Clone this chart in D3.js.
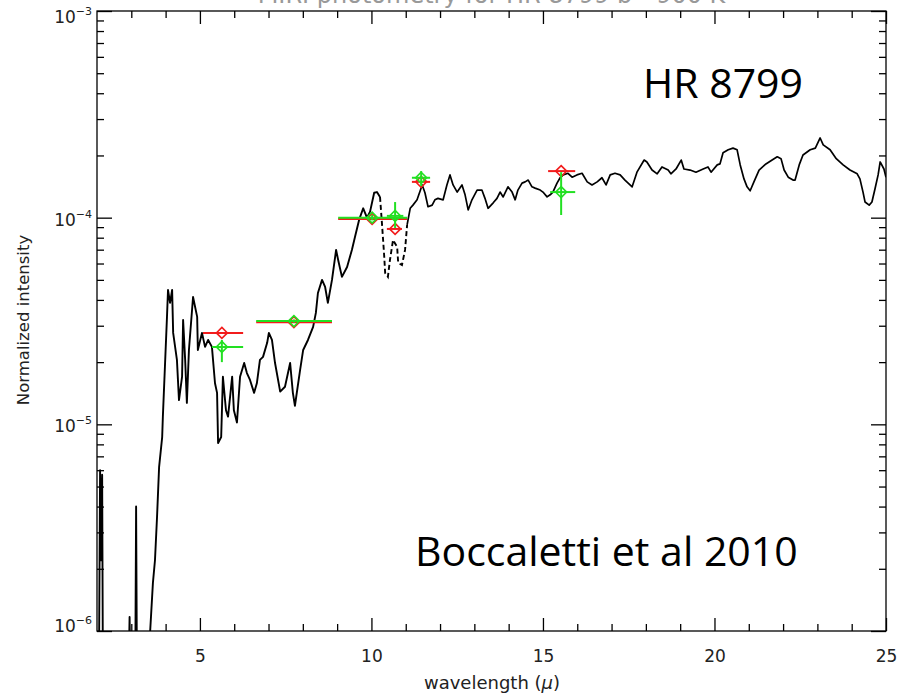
<!DOCTYPE html>
<html>
<head>
<meta charset="utf-8">
<script src="https://cdn.jsdelivr.net/npm/d3@7"></script>
<style>
  html, body { margin: 0; padding: 0; background: #fff; }
  svg { display: block; }
</style>
</head>
<body>
<svg id="chart" width="904" height="698"></svg>
<script>
// Model spectrum of HR 8799 (wavelength in micron, normalized intensity)
const wavelength = [
  2.00, 2.06, 2.09, 2.12, 2.15, 2.17, 2.90, 2.95, 2.99, 3.11,
  3.14, 3.17, 3.52, 3.55, 3.63, 3.69, 3.75, 3.81, 3.90, 3.92,
  3.98, 4.04, 4.07, 4.13, 4.19, 4.22, 4.33, 4.39, 4.48, 4.51,
  4.57, 4.62, 4.68, 4.80, 4.92, 4.94, 5.06, 5.15, 5.24, 5.35,
  5.44, 5.50, 5.53, 5.62, 5.67, 5.76, 5.82, 5.94, 5.99, 6.08,
  6.17, 6.29, 6.37, 6.46, 6.58, 6.66, 6.75, 6.84, 6.96, 7.01,
  7.10, 7.19, 7.34, 7.48, 7.63, 7.71, 7.77, 7.92, 8.01, 8.15,
  8.30, 8.38, 8.44, 8.56, 8.65, 8.73, 8.85, 8.97, 9.03, 9.14,
  9.29, 9.43, 9.52, 9.64, 9.76, 9.87, 9.96, 10.08, 10.16, 10.25,
  10.31, 10.37, 10.40, 10.48, 10.54, 10.63, 10.75, 10.78, 10.89, 10.98,
  11.04, 11.13, 11.21, 11.33, 11.48, 11.56, 11.65, 11.77, 11.85, 11.94,
  12.09, 12.20, 12.29, 12.38, 12.50, 12.64, 12.73, 12.82, 12.93, 13.08,
  13.22, 13.31, 13.40, 13.55, 13.66, 13.75, 13.84, 13.98, 14.10, 14.19,
  14.27, 14.39, 14.48, 14.57, 14.68, 14.77, 14.92, 15.00, 15.12, 15.21,
  15.29, 15.41, 15.50, 15.59, 15.73, 15.85, 15.99, 16.14, 16.29, 16.43,
  16.58, 16.72, 16.84, 16.96, 17.10, 17.25, 17.39, 17.60, 17.74, 17.95,
  18.03, 18.18, 18.33, 18.47, 18.65, 18.73, 18.88, 19.03, 19.11, 19.29,
  19.46, 19.67, 19.81, 19.90, 20.08, 20.16, 20.25, 20.40, 20.54, 20.66,
  20.75, 20.86, 20.95, 21.04, 21.15, 21.30, 21.50, 21.68, 21.83, 21.94,
  22.03, 22.15, 22.29, 22.35, 22.47, 22.58, 22.79, 22.94, 23.08, 23.17,
  23.37, 23.55, 23.75, 23.95, 24.16, 24.24, 24.33, 24.39, 24.51, 24.59,
  24.68, 24.77, 24.83, 24.94, 25.00
];
const intensity = [
  4e-7, 8e-7, 6.0e-6, 2.2e-6, 5.7e-6, 8e-7, 4e-7, 1.17e-6, 4e-7, 4e-7,
  4.0e-6, 4e-7, 4e-7, 1.0e-6, 1.71e-6, 2.2e-6, 3.56e-6, 6.21e-6, 8.68e-6, 1.09e-5,
  1.90e-5, 3.31e-5, 4.47e-5, 3.87e-5, 4.47e-5, 2.77e-5, 2.05e-5, 1.31e-5, 1.70e-5, 3.20e-5,
  2.05e-5, 1.27e-5, 2.29e-5, 4.13e-5, 3.31e-5, 2.29e-5, 2.77e-5, 2.37e-5, 2.56e-5, 2.37e-5,
  1.58e-5, 1.42e-5, 8.12e-6, 8.68e-6, 1.70e-5, 1.17e-5, 1.09e-5, 1.70e-5, 1.17e-5, 1.02e-5,
  1.70e-5, 1.98e-5, 1.77e-5, 1.64e-5, 1.42e-5, 1.58e-5, 2.05e-5, 2.12e-5, 2.48e-5, 2.77e-5,
  2.56e-5, 1.98e-5, 1.44e-5, 1.52e-5, 1.98e-5, 1.42e-5, 1.23e-5, 1.83e-5, 2.29e-5, 2.56e-5,
  2.96e-5, 3.46e-5, 4.32e-5, 5.00e-5, 4.62e-5, 3.87e-5, 5.00e-5, 6.98e-5, 6.24e-5, 5.17e-5,
  5.77e-5, 6.98e-5, 8.07e-5, 9.75e-5, 1.11e-4, 1.00e-4, 1.07e-4, 1.32e-4, 1.33e-4, 1.26e-4,
  9.22e-5, 6.60e-5, 5.40e-5, 5.17e-5, 6.24e-5, 7.80e-5, 7.21e-5, 6.04e-5, 5.90e-5, 6.98e-5,
  9.22e-5, 1.11e-4, 1.15e-4, 1.22e-4, 1.44e-4, 1.32e-4, 1.13e-4, 1.15e-4, 1.22e-4, 1.24e-4,
  1.22e-4, 1.44e-4, 1.61e-4, 1.44e-4, 1.33e-4, 1.44e-4, 1.29e-4, 1.09e-4, 1.22e-4, 1.36e-4,
  1.36e-4, 1.24e-4, 1.11e-4, 1.18e-4, 1.24e-4, 1.33e-4, 1.26e-4, 1.41e-4, 1.33e-4, 1.22e-4,
  1.36e-4, 1.47e-4, 1.49e-4, 1.52e-4, 1.41e-4, 1.39e-4, 1.36e-4, 1.33e-4, 1.26e-4, 1.29e-4,
  1.33e-4, 1.47e-4, 1.56e-4, 1.61e-4, 1.64e-4, 1.57e-4, 1.61e-4, 1.64e-4, 1.49e-4, 1.44e-4,
  1.49e-4, 1.56e-4, 1.44e-4, 1.61e-4, 1.64e-4, 1.61e-4, 1.52e-4, 1.41e-4, 1.66e-4, 1.90e-4,
  1.86e-4, 1.70e-4, 1.63e-4, 1.76e-4, 1.70e-4, 1.63e-4, 1.72e-4, 1.90e-4, 1.72e-4, 1.70e-4,
  1.66e-4, 1.72e-4, 1.76e-4, 1.66e-4, 1.80e-4, 1.82e-4, 2.06e-4, 2.13e-4, 2.17e-4, 2.13e-4,
  1.80e-4, 1.54e-4, 1.41e-4, 1.35e-4, 1.49e-4, 1.70e-4, 1.82e-4, 1.90e-4, 1.97e-4, 1.93e-4,
  1.70e-4, 1.57e-4, 1.52e-4, 1.52e-4, 1.80e-4, 2.01e-4, 2.13e-4, 2.17e-4, 2.43e-4, 2.25e-4,
  2.13e-4, 1.93e-4, 1.80e-4, 1.70e-4, 1.63e-4, 1.54e-4, 1.33e-4, 1.19e-4, 1.15e-4, 1.19e-4,
  1.38e-4, 1.61e-4, 1.86e-4, 1.72e-4, 1.57e-4
];
// Sparsely sampled stretch of the spectrum, drawn dashed
const sparseRange = [10.25, 11.04];

// Photometry, first reduction (red): centre, flux, filter band edges
const redWl = [5.64, 7.74, 10.02, 10.69, 11.45, 15.53];
const redFlux = [2.77e-5, 3.12e-5, 9.86e-5, 8.82e-5, 1.49e-4, 1.68e-4];
const redWlLo = [5.09, 6.64, 9.03, 10.45, 11.18, 15.15];
const redWlHi = [6.26, 8.85, 11.04, 10.89, 11.71, 15.94];

// Photometry, second reduction (green) with flux error bars
const greenWl = [5.64, 7.74, 10.02, 10.69, 11.45, 15.53];
const greenFlux = [2.37e-5, 3.16e-5, 1.00e-4, 1.02e-4, 1.56e-4, 1.33e-4];
const greenWlLo = [5.35, 6.64, 9.03, 10.45, 11.18, 15.21];
const greenWlHi = [6.26, 8.85, 11.04, 10.93, 11.71, 15.94];
const greenFluxLo = [2.00e-5, 3.10e-5, 9.70e-5, 8.91e-5, 1.42e-4, 1.03e-4];
const greenFluxHi = [2.56e-5, 3.22e-5, 1.03e-4, 1.19e-4, 1.68e-4, 1.66e-4];

// Axis ticks
const xMajorTicks = [5, 10, 15, 20, 25];
const xMinorTicks = [3, 4, 6, 7, 8, 9, 11, 12, 13, 14, 16, 17, 18, 19, 21, 22, 23, 24];
const yMajorTicks = [1e-6, 1e-5, 1e-4, 1e-3];
const yExponents = ["\u22126", "\u22125", "\u22124", "\u22123"];

const titleText = "MIRI photometry for HR 8799 b - 900 K";
const xTitle = "wavelength";
const yTitle = "Normalized intensity";
const starLabel = "HR 8799";
const refLabel = "Boccaletti et al 2010";

// ---- layout ----
const svg = d3.select("#chart");
const plotL = 97, plotR = 886, plotT = 11, plotB = 631;
const x = d3.scaleLinear().domain([2, 25]).range([plotL, plotR]);
const y = d3.scaleLog().domain([1e-6, 1e-3]).range([plotB, plotT]);
const axisFont = "'DejaVu Sans', sans-serif";

svg.append("rect").attr("width", 904).attr("height", 698).attr("fill", "#fff");

// title sits above the top edge of the page, only its lower part shows
svg.append("text")
  .attr("x", (plotL + plotR) / 2).attr("y", 3)
  .attr("text-anchor", "middle")
  .attr("font-family", axisFont).attr("font-size", 24)
  .attr("fill", "#999")
  .text(titleText);

svg.append("defs").append("clipPath").attr("id", "plotClip")
  .append("rect").attr("x", plotL).attr("y", plotT)
  .attr("width", plotR - plotL).attr("height", plotB - plotT);

// ---- spectrum ----
const spec = wavelength.map((w, i) => ({ w, v: intensity[i] }));
const line = d3.line().x(d => x(d.w)).y(d => y(d.v));
const plot = svg.append("g").attr("clip-path", "url(#plotClip)");

plot.append("path")
  .datum(spec.filter(d => d.w <= sparseRange[0]))
  .attr("d", line).attr("fill", "none").attr("stroke", "#000")
  .attr("stroke-width", 1.9).attr("stroke-linejoin", "round");
plot.append("path")
  .datum(spec.filter(d => d.w >= sparseRange[0] && d.w <= sparseRange[1]))
  .attr("d", line).attr("fill", "none").attr("stroke", "#000")
  .attr("stroke-width", 1.9).attr("stroke-dasharray", "5,3");
plot.append("path")
  .datum(spec.filter(d => d.w >= sparseRange[1]))
  .attr("d", line).attr("fill", "none").attr("stroke", "#000")
  .attr("stroke-width", 1.7).attr("stroke-linejoin", "round");

// ---- photometry ----
const r = 5.5;
const diamond = `M0,${-r}L${r},0L0,${r}L${-r},0Z`;

function drawPoints(color, wl, flux, lo, hi, fLo, fHi) {
  const g = plot.append("g");
  wl.forEach((w, i) => {
    const cx = x(w), cy = y(flux[i]);
    g.append("line").attr("x1", x(lo[i])).attr("x2", x(hi[i]))
      .attr("y1", cy).attr("y2", cy)
      .attr("stroke", color).attr("stroke-width", 2);
    if (fLo) {
      g.append("line").attr("x1", cx).attr("x2", cx)
        .attr("y1", y(fLo[i])).attr("y2", y(fHi[i]))
        .attr("stroke", color).attr("stroke-width", 2);
    }
    g.append("path").attr("d", diamond)
      .attr("transform", `translate(${cx},${cy})`)
      .attr("fill", "none").attr("stroke", color).attr("stroke-width", 1.6);
  });
}
drawPoints("#f21c1c", redWl, redFlux, redWlLo, redWlHi);
drawPoints("#22e022", greenWl, greenFlux, greenWlLo, greenWlHi, greenFluxLo, greenFluxHi);

// ---- frame & ticks ----
function tickGroup(axis, transform) {
  const g = svg.append("g").attr("transform", transform).call(axis);
  g.select(".domain").remove();
  g.selectAll(".tick line").attr("stroke", "#000").attr("stroke-width", 1.3);
  return g;
}
// bottom
tickGroup(d3.axisBottom(x).tickValues(xMinorTicks).tickSize(-7).tickFormat(""), `translate(0,${plotB})`);
const xb = tickGroup(d3.axisBottom(x).tickValues(xMajorTicks).tickSize(-13).tickPadding(19), `translate(0,${plotB})`);
xb.selectAll("text").attr("font-family", axisFont).attr("font-size", 17).attr("fill", "#222");
// top
tickGroup(d3.axisTop(x).tickValues(xMinorTicks).tickSize(-7).tickFormat(""), `translate(0,${plotT})`);
tickGroup(d3.axisTop(x).tickValues(xMajorTicks).tickSize(-13).tickFormat(""), `translate(0,${plotT})`);

const yMinor = [];
for (let e = -6; e < -3; e++) for (let m = 2; m <= 9; m++) yMinor.push(m * Math.pow(10, e));
// left
tickGroup(d3.axisLeft(y).tickValues(yMinor).tickSize(-7).tickFormat(""), `translate(${plotL},0)`);
tickGroup(d3.axisLeft(y).tickValues(yMajorTicks).tickSize(-15).tickFormat(""), `translate(${plotL},0)`);
// right
tickGroup(d3.axisRight(y).tickValues(yMinor).tickSize(-7).tickFormat(""), `translate(${plotR},0)`);
tickGroup(d3.axisRight(y).tickValues(yMajorTicks).tickSize(-15).tickFormat(""), `translate(${plotR},0)`);

svg.append("rect").attr("x", plotL).attr("y", plotT)
  .attr("width", plotR - plotL).attr("height", plotB - plotT)
  .attr("fill", "none").attr("stroke", "#000").attr("stroke-width", 1.3);

// y tick labels with exponents
yMajorTicks.forEach((v, i) => {
  const base = Math.min(Math.max(y(v) + 8, 23), 632);
  const t = svg.append("text")
    .attr("x", plotL - 5).attr("y", base)
    .attr("text-anchor", "end")
    .attr("font-family", axisFont).attr("font-size", 17).attr("fill", "#222");
  t.append("tspan").text("10");
  t.append("tspan").attr("font-size", 11).attr("dy", -8).text(yExponents[i]);
});

// axis titles
const xt = svg.append("text")
  .attr("x", 492).attr("y", 689)
  .attr("text-anchor", "middle")
  .attr("font-family", axisFont).attr("font-size", 18).attr("fill", "#222");
xt.append("tspan").text(xTitle + " (");
xt.append("tspan").attr("font-style", "italic").text("\u03bc");
xt.append("tspan").text(")");

svg.append("text")
  .attr("transform", "translate(29,320) rotate(-90)")
  .attr("text-anchor", "middle")
  .attr("font-family", axisFont).attr("font-size", 16.5).attr("fill", "#222")
  .text(yTitle);

// annotations
svg.append("text")
  .attr("x", 643).attr("y", 98)
  .attr("font-family", "'Open Sans', sans-serif").attr("font-size", 41)
  .attr("fill", "#000")
  .text(starLabel);
svg.append("text")
  .attr("x", 415).attr("y", 566)
  .attr("font-family", "'Open Sans', sans-serif").attr("font-size", 41)
  .attr("fill", "#000")
  .text(refLabel);
</script>
</body>
</html>
